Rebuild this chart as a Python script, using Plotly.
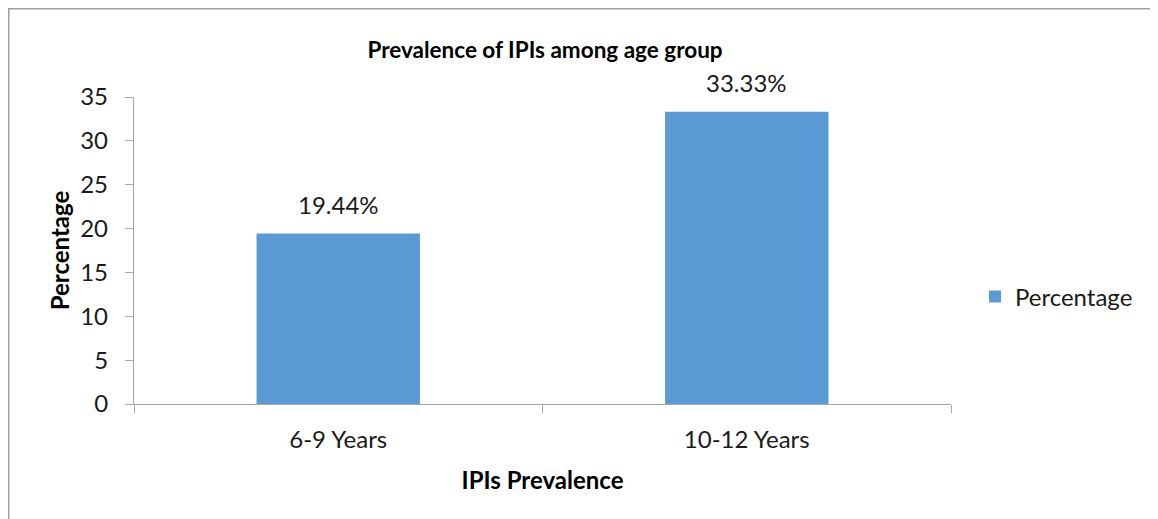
import plotly.graph_objects as go

categories = ["6-9 Years", "10-12 Years"]
values = [19.44, 33.33]
labels = ["19.44%", "33.33%"]
series_name = "Percentage"
y_ticks = [0, 5, 10, 15, 20, 25, 30, 35]

FONT = "Lato"
FS = 24
W, H = 1158, 519
# figure coordinates (page body adds an 8px offset)
L, R, T, B = 126, 943, 89, 396
pw, ph = R - L, B - T

fig = go.Figure()
fig.add_trace(go.Bar(
    x=categories, y=values, name=series_name,
    marker=dict(color="#5b9bd5", line=dict(width=0)),
))

for c, v, t in zip(categories, values, labels):
    fig.add_annotation(x=c, y=v, text=t, showarrow=False, yanchor="middle",
                       yshift=29, font=dict(family=FONT, size=FS, color="#1a1a1a"))

fig.add_shape(type="rect", xref="paper", yref="paper",
              x0=(0.5 - L) / pw, x1=1.6, y0=-1.0, y1=1 + (T - 0.5) / ph,
              line=dict(color="#a0a0a0", width=2), layer="below")

fig.update_layout(
    width=W, height=H,
    margin=dict(l=L, r=W - R, t=T, b=H - B, pad=0),
    paper_bgcolor="white", plot_bgcolor="white",
    bargap=0.6,
    font=dict(family=FONT, size=FS, color="#1a1a1a"),
    title=dict(text="<b>Prevalence of IPIs among age group</b>", x=537 / W, xanchor="center",
               y=1 - 42 / H, yanchor="middle", font=dict(family=FONT, size=22.5, color="#000000")),
    showlegend=True,
    legend=dict(x=(967 - L) / pw, y=(B - 289) / ph, xanchor="left", yanchor="middle",
                font=dict(family=FONT, size=FS, color="#1a1a1a"), bgcolor="rgba(0,0,0,0)"),
    xaxis=dict(
        showline=True, linecolor="#a6a6a6", linewidth=1.3,
        ticks="outside", tickson="boundaries", ticklen=8, tickcolor="#a6a6a6", tickwidth=1.3,
        ticklabelstandoff=14,
        showgrid=False, zeroline=False,
        title=dict(text="<b>IPIs Prevalence</b>", font=dict(family=FONT, size=FS, color="#000000"), standoff=20),
        tickfont=dict(family=FONT, size=FS, color="#1a1a1a"),
    ),
    yaxis=dict(
        range=[0, 35], tickvals=y_ticks,
        showline=True, linecolor="#a6a6a6", linewidth=1.3,
        ticks="outside", ticklen=8, tickcolor="#a6a6a6", tickwidth=1.3,
        ticklabelstandoff=12,
        showgrid=False, zeroline=False,
        title=dict(text="<b>Percentage</b>", font=dict(family=FONT, size=FS, color="#000000"), standoff=3),
        tickfont=dict(family=FONT, size=FS, color="#1a1a1a"),
    ),
)

fig.write_html("out.html")
